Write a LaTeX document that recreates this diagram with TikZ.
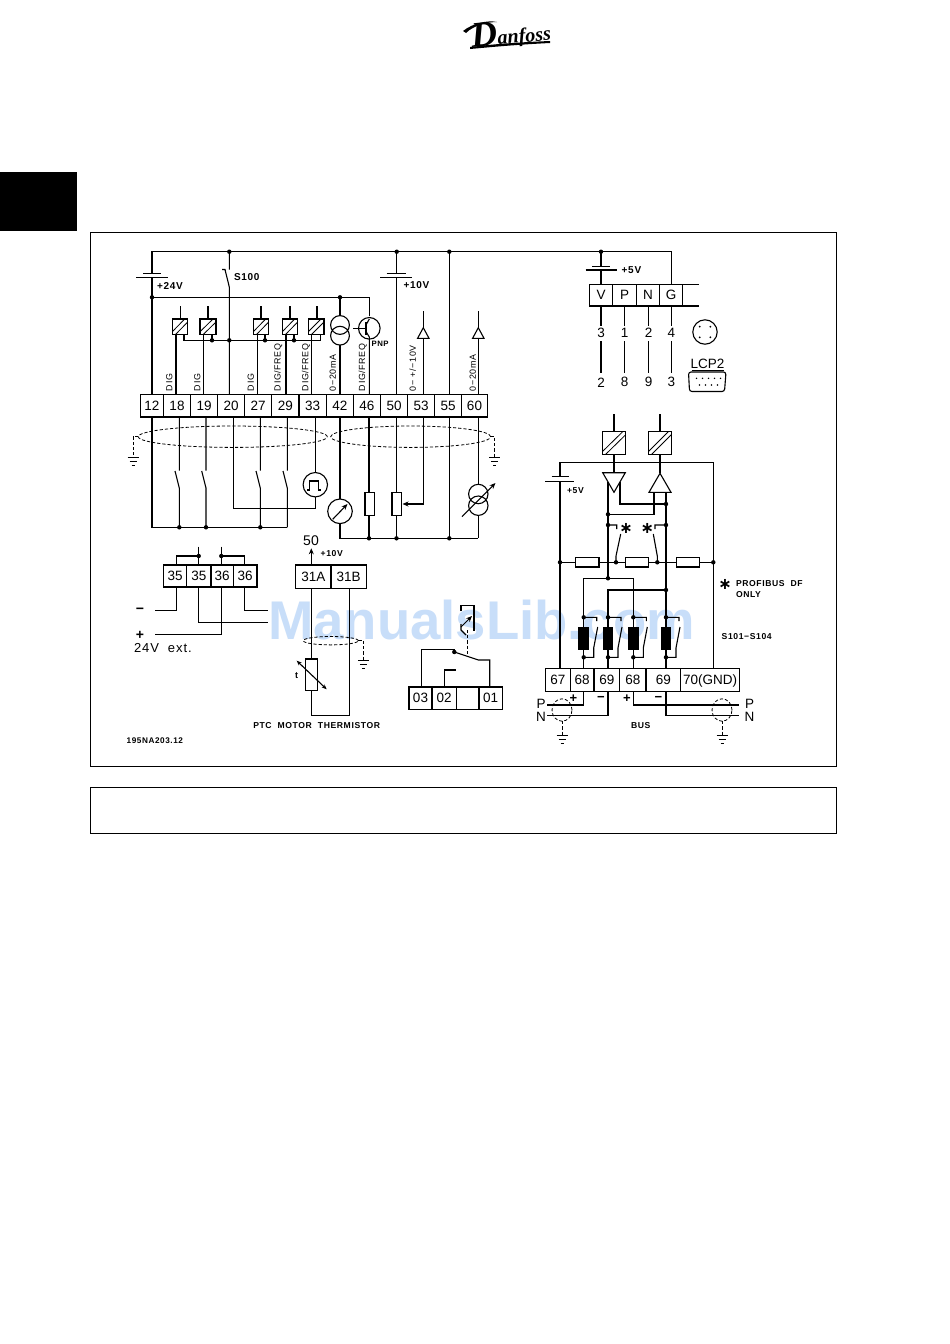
\documentclass[tikz,border=0pt]{standalone}
\usepackage{fontspec}
\setmainfont{Liberation Sans}
\newfontfamily\widefont[LetterSpace=7]{Liberation Sans}
\newfontfamily\symfont{DejaVu Sans}
\usetikzlibrary{arrows.meta}
\definecolor{wm}{HTML}{C8DEF9}
\newcommand\fsz[1]{\fontsize{#1}{#1}\selectfont}
\tikzset{
  wire/.style={line width=1.1pt,line join=miter},
  thin wire/.style={line width=.8pt},
  shield/.style={line width=.8pt,dash pattern=on 3.2pt off 2pt},
  term/.style={draw,line width=1.1pt,fill=white,inner sep=0pt,outer sep=0pt,font=\fsz{13.5},text height=9.6pt,text depth=0pt},
  lab/.style={inner sep=0pt,outer sep=0pt,font=\widefont\bfseries\fsz{8.6}},
  biglab/.style={inner sep=0pt,outer sep=0pt,anchor=west,font=\widefont\bfseries\fsz{10}},
  vlab/.style={inner sep=0pt,outer sep=0pt,rotate=90,anchor=west,font=\widefont\fsz{8.9}},
  num/.style={inner sep=0pt,outer sep=0pt,font=\fsz{13.5}},
  tip/.style={-{Stealth[length=6pt,width=5pt]}},
  star/.style={inner sep=0pt,outer sep=0pt,font=\symfont\bfseries\fsz{16}},
}
\newcommand\term[6]{\node[term,minimum width={(#3-#2)*1pt},minimum height={(#5-#4)*1pt}] (#1) at ({(#2+#3)/2},{(#4+#5)/2}) {#6};}
\newcommand\opto[4]{\draw[wire] (#1,#3) rectangle (#2,#4);
  \draw[thin wire] (#1,{#4-3}) -- ({#2-3},#3) (#1+3,#4) -- (#2,{#3+3});}
\newcommand\gnd[2]{\draw[thin wire] (#1-5.5,#2) -- (#1+5.5,#2) (#1-3.5,#2+4) -- (#1+3.5,#2+4) (#1-1.5,#2+8) -- (#1+1.5,#2+8);}
\newcommand\jd[2]{\fill (#1,#2) circle (2.2pt);}
\begin{document}
\begin{tikzpicture}[x=1pt,y=-1pt]
\useasboundingbox (0,0) rectangle (950,1344);
\fill[white] (0,0) rectangle (950,1344);
% watermark (under the drawing)
\node[anchor=base,inner sep=0pt,text=wm,font=\bfseries\fsz{54.5}] (watermark) at (481.5,639.5) {ManualsLib.com};
% page furniture
\fill[black] (0,172) rectangle (77,231);
\draw[line width=1pt] (90.5,232.5) rectangle (836.5,766);
\draw[line width=1pt] (90.5,787.5) rectangle (836.5,833.5);
% logo
\node[inner sep=0pt,font=\fontspec{Liberation Serif}\bfseries\itshape] (logo) at (511,34) {\rotatebox{5}{{\fsz{36}D}{\fsz{20}anfoss}}};
\fill (463,31) .. controls (473,23) and (488,20) .. (497,22) .. controls (488,22) and (474,25) .. (466,33) -- cycle;
\fill (470,47) .. controls (480,46) and (500,43) .. (550,41) -- (550,43) .. controls (510,45) and (482,48) .. (470,49) -- cycle;
%
% top rail and 24V
\draw[wire] (152,394) -- (152,277.7) (152,273.3) -- (152,251.7) -- (671.3,251.7) -- (671.3,284.3);
\draw[wire] (136,277.7) -- (167.7,277.7) (143,273.3) -- (160.7,273.3);
\draw[wire] (229.3,251.7) -- (229.3,269.5) (222,269.5) -- (225,269.5) -- (229.3,287) -- (229.3,394);
\draw[wire] (152,297.3) -- (369.3,297.3) -- (369.3,316);
\draw[wire] (340,297.3) -- (340,315.6);
\draw[wire] (340,345) -- (340,394);
\draw[wire] (340,325) circle (9.4pt) (340,335.7) circle (9.4pt);
% transistor
\draw[wire] (369.3,328.3) circle (10.8pt);
\draw[wire] (353,328.3) -- (366,328.3) (366,322) -- (366,334.6);
\draw[wire] (366,325) -- (369.3,319) (366,331.5) -- (369.3,337) -- (369.3,394);
% opto boxes
\opto{172.3}{187.7}{319}{334.7}\opto{200}{216}{319}{334.7}\opto{253.3}{268.7}{319}{334.7}\opto{282.3}{297.7}{319}{334.7}\opto{308.3}{324}{319}{334.7}
\draw[wire] (180.7,306) -- (180.7,319) (208,306) -- (208,319) (261,306) -- (261,319) (290,306) -- (290,319) (317,306) -- (317,319);
\draw[wire] (184,334.7) -- (184,340.3) -- (320.7,340.3) -- (320.7,334.7);
\draw[wire] (212,334.7) -- (212,340.3) (265,334.7) -- (265,340.3) (294,334.7) -- (294,340.3);
\draw[wire] (176,334.7) -- (176,394) (203.7,334.7) -- (203.7,394) (257.3,334.7) -- (257.3,394) (286,334.7) -- (286,394) (311.7,334.7) -- (311.7,394);
% vertical labels
\node[vlab] (dig1) at (169.3,391) {DIG};
\node[vlab] (dig2) at (197.3,391) {DIG};
\node[vlab] (dig3) at (250.7,391) {DIG};
\node[vlab] (digf1) at (278.3,391) {DIG/FREQ};
\node[vlab] (digf2) at (306,391) {DIG/FREQ};
\node[vlab] (ma1) at (332.7,391) {0−20mA};
\node[vlab] (digf3) at (362.7,391) {DIG/FREQ};
\node[vlab] (v10) at (412.7,391) {0−\,\,+/−10V};
\node[vlab] (ma2) at (472.7,391) {0−20mA};
\node[lab,anchor=west,font=\widefont\bfseries\fsz{7.8}] (pnp) at (371.5,344) {PNP};
\node[biglab] (s100) at (234,277) {S100};
\node[biglab] (v24) at (157,286) {+24V};
\node[biglab] (v10b) at (403.5,285.5) {+10V};
% 10V battery, 50, 55
\draw[wire] (396.7,251.7) -- (396.7,273.5) (396.7,277.7) -- (396.7,394);
\draw[wire] (386.7,273.5) -- (405.7,273.5) (380,277.7) -- (412.3,277.7);
\draw[wire] (449.3,251.7) -- (449.3,538.3);
% inputs 53, 60
\draw[wire] (423.3,394) -- (423.3,311) (478.3,394) -- (478.3,311);
\draw[wire,fill=white] (423.3,327.7) -- (429,338.3) -- (417.6,338.3) -- cycle;
\draw[wire,fill=white] (478.3,327.7) -- (484,338.3) -- (472.6,338.3) -- cycle;
% below the main strip
\draw[wire] (152,417) -- (152,527.3) -- (287.3,527.3);
\foreach \x in {179.3,206,260.3,287.3}{
  \draw[wire] (\x,417) -- (\x,470.5) (\x-4.3,471) -- (\x,488) -- (\x,527.3);
}
\draw[wire] (233.3,417) -- (233.3,508.3) -- (315.3,508.3) -- (315.3,496.9);
\draw[wire] (315.3,417) -- (315.3,472.5);
\draw[wire] (315.3,484.7) circle (12.2pt);
\draw[wire] (307,490) -- (309.7,490) -- (309.7,481) -- (318.7,481)  -- (318.7,490) -- (321.3,490);
\draw[wire] (340,417) -- (340,499) (340,523.6) -- (340,538.3) -- (478.3,538.3);
\draw[wire] (340,511.3) circle (12.3pt);
\draw[wire,tip] (332.7,519.3) -- (347.5,504);
\draw[wire] (369,417) -- (369,492.3) (369,515.3) -- (369,538.3);
\draw[wire] (365,492.3) rectangle (374.3,515.3);
\draw[wire] (396.5,417) -- (396.5,492.3) (396.5,515.3) -- (396.5,538.3);
\draw[wire] (392,492.3) rectangle (401.7,515.3);
\draw[wire,tip] (423.3,417) -- (423.3,504) -- (402.5,504);
\draw[wire] (478.3,417) -- (478.3,484) (478.3,515.5) -- (478.3,538.3);
\draw[wire] (478.3,494) circle (9.7pt) (478.3,505.7) circle (9.7pt);
\draw[wire,tip] (462,516.7) -- (495.5,483);
% shields
\draw[shield] (232.8,436.7) ellipse [x radius=94.5pt,y radius=10.7pt];
\draw[shield] (410.7,436.7) ellipse [x radius=80pt,y radius=10.7pt];
\draw[shield] (138.3,436.7) -- (133,436.7) -- (133,456.7);
\draw[shield] (490.7,436.7) -- (494.7,436.7) -- (494.7,456.7);
\gnd{133}{457}\gnd{494.7}{457}
\foreach \p in {229.3,396.7,449.3,601}{\jd{\p}{251.7}}
\jd{152}{297.3}\jd{340}{297.3}
\jd{212}{340.3}\jd{229.3}{340.3}\jd{265}{340.3}\jd{294}{340.3}
\jd{179.3}{527.3}\jd{206}{527.3}\jd{260.3}{527.3}
\jd{369}{538.3}\jd{396.5}{538.3}\jd{449.3}{538.3}
% main terminal strip
\term{t12}{140.7}{163.3}{394.3}{417}{12}
\term{t18}{163.3}{190.7}{394.3}{417}{18}
\term{t19}{190.7}{217.7}{394.3}{417}{19}
\term{t20}{217.7}{244.7}{394.3}{417}{20}
\term{t27}{244.7}{271.7}{394.3}{417}{27}
\term{t29}{271.7}{299}{394.3}{417}{29}
\term{t33}{299}{326.3}{394.3}{417}{33}
\term{t42}{326.3}{353.3}{394.3}{417}{42}
\term{t46}{353.3}{380.5}{394.3}{417}{46}
\term{t50}{380.5}{407.7}{394.3}{417}{50}
\term{t53}{407.7}{434.7}{394.3}{417}{53}
\term{t55}{434.7}{461.7}{394.3}{417}{55}
\term{t60}{461.7}{487.3}{394.3}{417}{60}
% LCP connector
\draw[wire] (601,251.7) -- (601,266.7) (601,270) -- (601,284.3);
\draw[wire] (592.3,266.7) -- (610,266.7) (585.7,270) -- (617.3,270);
\node[biglab] (v5a) at (621.7,270) {+5V};
\draw[wire] (682.7,284.3) -- (698.7,284.3) (682.7,306) -- (698.7,306);
\term{tV}{589.7}{612.7}{284.3}{306}{V}
\term{tP}{612.7}{636.7}{284.3}{306}{P}
\term{tN}{636.7}{659.3}{284.3}{306}{N}
\term{tG}{659.3}{682.7}{284.3}{306}{G}
\foreach \x/\a/\b [count=\i] in {601/3/2,624.7/1/8,648.7/2/9,671.3/4/3}{
  \draw[wire] (\x,306) -- (\x,325.7) (\x,341) -- (\x,373.3);
  \node[num] (up\i) at (\x,332.5) {\a};
  \node[num] (lo\i) at (\x,382.3) {\b};
}
\draw[wire] (705,332) circle (12.2pt);
\foreach \dx in {-5.3,5.3}\foreach \dy in {-5.3,5.3}{\fill (705+\dx,332+\dy) circle (1pt);}
\node[num] (lcp) at (707.5,364) {LCP2};
\draw[thin wire] (691.5,370) -- (723.5,370);
\draw[wire,rounded corners=2.5pt] (688.5,372) -- (726,372) -- (724.5,391.5) -- (689.5,391.5) -- cycle;
\foreach \x in {696.5,702.5,708.5,714.5,720.5}{\fill (\x,378.3) circle (.8pt);}
\foreach \x in {699.5,705.5,711.5,717.5}{\fill (\x,385) circle (.8pt);}
% profibus section
\draw[wire] (614,414) -- (614,431.7) (660,414) -- (660,431.7);
\opto{602.7}{625.7}{431.7}{454.3}\opto{648.7}{671.3}{431.7}{454.3}
\draw[wire] (614,454.3) -- (614,472.7) (660,454.3) -- (660,473.3);
\draw[wire] (560,476.7) -- (560,462.3) -- (713.3,462.3) -- (713.3,668.3);
\draw[wire] (560,481.3) -- (560,668.3);
\draw[wire] (551.7,476.7) -- (569.3,476.7) (545,481.3) -- (574.3,481.3);
\node[lab,anchor=west] (v5b) at (567,490.7) {+5V};
\draw[wire] (608,482) -- (608,578.3) -- (583.7,578.3) -- (583.7,668.3);
\draw[wire] (608,578.3) -- (633.3,578.3) -- (633.3,668.3);
\draw[wire] (620,482) -- (620,504) -- (666,504);
\draw[wire] (654,492) -- (654,514.3) -- (608,514.3);
\draw[wire] (666,492) -- (666,668.3);
\draw[wire] (666,590) -- (608,590) -- (608,668.3);
\draw[wire,fill=white] (602.7,472.7) -- (625.3,472.7) -- (614,492.3) -- cycle;
\draw[wire,fill=white] (649,492.3) -- (671,492.3) -- (660,473.3) -- cycle;
\draw[wire] (608,525) -- (616.7,525) -- (616.7,529) (620.7,534) -- (616,556) -- (616,562.3);
\draw[wire] (666,525) -- (655,525) -- (655,529) (653.3,534) -- (657.3,556) -- (657.3,562.3);
\node[star] (star1) at (626,528.5) {∗};
\node[star] (star2) at (647.3,528.5) {∗};
\draw[wire] (560,562.3) -- (713.3,562.3);
\draw[wire,fill=white] (575.3,557.7) rectangle (599,567);
\draw[wire,fill=white] (625.3,557.7) rectangle (648.7,567);
\draw[wire,fill=white] (676.3,557.7) rectangle (699.7,567);
\foreach \p in {560,616,657.3,713.3}{\jd{\p}{562.3}}
\jd{608}{514.3}\jd{666}{504}\jd{608}{525}\jd{666}{525}\jd{608}{578.3}\jd{666}{590}
% S101-S104
\foreach \x in {583.7,608,633.3,666}{
  \fill (\x-5.3,627.3) rectangle (\x+5.3,650);
  \draw[wire] (\x,617.3) -- (\x+13,617.3) -- (\x+13,621) (\x+14,627) -- (\x+10,648) -- (\x+10,657.3) -- (\x,657.3);
  \jd{\x}{617.3}\jd{\x}{657.3}
}
\node[star,anchor=center] (star3) at (725,584.5) {∗};
\node[lab,anchor=west] (prof1) at (736,584) {PROFIBUS\ \ DF};
\node[lab,anchor=west] (prof2) at (736,595) {ONLY};
\node[lab,anchor=west] (s101) at (721.7,636.7) {S101−S104};
\term{b67}{545.3}{570.3}{668.3}{691.7}{67}
\term{b68}{570.3}{594}{668.3}{691.7}{68}
\term{b69}{594}{619.7}{668.3}{691.7}{69}
\term{c68}{619.7}{646}{668.3}{691.7}{68}
\term{c69}{646}{680.7}{668.3}{691.7}{69}
\term{gnd}{680.7}{739.3}{668.3}{691.7}{70(GND)}
\draw[wire] (583.7,691.7) -- (583.7,705) -- (546.7,705);
\draw[wire] (608,691.7) -- (608,715.7) -- (546.7,715.7);
\draw[wire] (633.3,691.7) -- (633.3,705) -- (739.3,705);
\draw[wire] (666,691.7) -- (666,715.7) -- (739.3,715.7);
\node[num] (pl) at (541,704.3) {P};
\node[num] (nl) at (541,717.3) {N};
\node[num] (pr) at (749.5,704.3) {P};
\node[num] (nr) at (749.5,717.3) {N};
\node[num,font=\bfseries\fsz{13}] (p1) at (573.3,699) {+};
\node[num,font=\bfseries\fsz{13}] (m1) at (601,699) {−};
\node[num,font=\bfseries\fsz{13}] (p2) at (627,699) {+};
\node[num,font=\bfseries\fsz{13}] (m2) at (658.3,699) {−};
\draw[shield] (562,710) ellipse [x radius=10pt,y radius=11.2pt];
\draw[shield] (722,710) ellipse [x radius=10pt,y radius=11.2pt];
\draw[shield] (562,721.2) -- (562,735) (722,721.2) -- (722,735);
\gnd{562}{735}\gnd{722}{735}
\node[lab] (bus) at (640.7,726) {BUS};
% 35/36 strip
\draw[wire] (176.3,565) -- (176.3,556) -- (198.7,556) (198.7,546.7) -- (198.7,565);
\draw[wire] (244.7,565) -- (244.7,556) -- (221.3,556) (221.3,546.7) -- (221.3,565);
\jd{198.7}{556}\jd{221.3}{556}
\draw[wire] (176.3,587) -- (176.3,610.7) -- (154.7,610.7);
\draw[wire] (198.7,587) -- (198.7,622.3) -- (267.7,622.3);
\draw[wire] (221.3,587) -- (221.3,634.7) -- (154.7,634.7);
\draw[wire] (244.7,587) -- (244.7,610.7) -- (267.7,610.7);
\term{s35a}{163.7}{186.7}{565}{587}{35}
\term{s35b}{186.7}{211}{565}{587}{35}
\term{s36a}{211}{233.3}{565}{587}{36}
\term{s36b}{233.3}{257}{565}{587}{36}
\node[num,font=\bfseries\fsz{14}] (minus) at (140,610.7) {−};
\node[num,font=\bfseries\fsz{14}] (plus) at (140,635) {+};
\node[num,anchor=west,font=\widefont\fsz{13}] (ext) at (134,648) {24V\ \ ext.};
% PTC
\draw[wire,tip] (311.3,565) -- (311.3,548.3);
\node[num,font=\fsz{14}] (fifty) at (311,541) {50};
\node[lab,anchor=west] (v10c) at (320.7,554) {+10V};
\draw[wire] (311.3,588.7) -- (311.3,659) (311.3,690.3) -- (311.3,715.3) -- (349.3,715.3) -- (349.3,588.7);
\draw[wire] (305.7,659) rectangle (317.7,690.3);
\draw[wire,{Stealth[length=5pt,width=4pt]}-{Stealth[length=5pt,width=4pt]}] (296.7,660.7) -- (326.7,689.3);
\node[lab,font=\bfseries\fsz{9}] (tt) at (296.7,676) {t};
\draw[shield] (330.8,640.7) ellipse [x radius=27.5pt,y radius=4.2pt];
\draw[shield] (358.3,640.7) -- (363.3,640.7) -- (363.3,660.7);
\gnd{363.3}{660.7}
\term{t31a}{295.7}{331}{565}{588.7}{31A}
\term{t31b}{331}{366.3}{565}{588.7}{31B}
\node[lab,anchor=west] (ptc) at (253.3,726) {PTC\ \ MOTOR\ \ THERMISTOR};
\node[lab,anchor=west,font=\widefont\bfseries\fsz{8.2}] (ref) at (126.7,741) {195NA203.12};
% relay
\draw[wire] (421.7,687) -- (421.7,649.3) -- (454.3,649.3) -- (454.3,652);
\draw[wire] (454.3,652) -- (478.3,660) -- (489.7,660) -- (489.7,687);
\draw[wire] (444.3,687) -- (444.3,670) -- (455.7,670);
\jd{454.3}{652}
\draw[shield] (467.3,630) -- (467.3,655.5);
\draw[wire] (461,611) -- (461,605.7) -- (474,605.7) -- (474,631);
\draw[wire] (461,624) -- (461,630) -- (466,635);
\draw[thin wire,tip] (461,627) -- (472,616);
\term{r03}{409}{432}{687}{709.3}{03}
\term{r02}{432}{456.3}{687}{709.3}{02}
\term{rx}{456.3}{479}{687}{709.3}{}
\term{r01}{479}{502.3}{687}{709.3}{01}
\end{tikzpicture}
\end{document}
